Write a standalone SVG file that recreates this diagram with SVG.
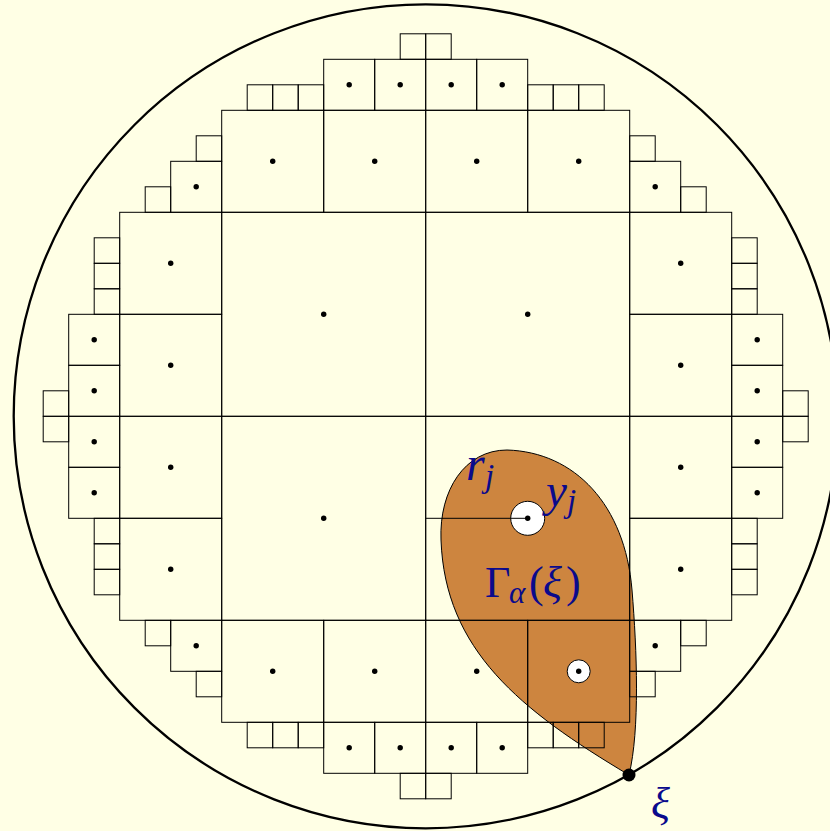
<svg xmlns="http://www.w3.org/2000/svg" width="830" height="831" viewBox="0 0 830 831">
<defs>
<style>
.sq{fill:none;stroke:#000;stroke-width:1}
.dot{fill:#000}
.lbl{font-family:"Liberation Serif","DejaVu Serif",serif;fill:#0a0a8c}
.it{font-style:italic}
</style>
</defs>
<rect x="0" y="0" width="830" height="831" fill="#FFFFE5"/>
<circle cx="425.7" cy="416.3" r="412" fill="none" stroke="#000" stroke-width="2.3"/>
<g id="cone">
<path d="M629,775 C520,710 445,650 441,540 C439,490 465,450 507,450 C575,452 625,505 632,590 C637,650 640,730 629,775 Z" fill="#CD853F" stroke="#000" stroke-width="1"/>
</g>
<g id="grid">
<!-- 8u squares -->
<rect class="sq" x="221.7" y="212.3" width="204" height="204"/>
<rect class="sq" x="425.7" y="212.3" width="204" height="204"/>
<rect class="sq" x="221.7" y="416.3" width="204" height="204"/>
<rect class="sq" x="425.7" y="416.3" width="204" height="204"/>
<!-- 4u squares -->
<rect class="sq" x="221.7" y="110.3" width="102" height="102"/>
<rect class="sq" x="323.7" y="110.3" width="102" height="102"/>
<rect class="sq" x="425.7" y="110.3" width="102" height="102"/>
<rect class="sq" x="527.7" y="110.3" width="102" height="102"/>
<rect class="sq" x="221.7" y="620.3" width="102" height="102"/>
<rect class="sq" x="323.7" y="620.3" width="102" height="102"/>
<rect class="sq" x="425.7" y="620.3" width="102" height="102"/>
<rect class="sq" x="527.7" y="620.3" width="102" height="102"/>
<rect class="sq" x="119.7" y="212.3" width="102" height="102"/>
<rect class="sq" x="119.7" y="314.3" width="102" height="102"/>
<rect class="sq" x="119.7" y="416.3" width="102" height="102"/>
<rect class="sq" x="119.7" y="518.3" width="102" height="102"/>
<rect class="sq" x="629.7" y="212.3" width="102" height="102"/>
<rect class="sq" x="629.7" y="314.3" width="102" height="102"/>
<rect class="sq" x="629.7" y="416.3" width="102" height="102"/>
<rect class="sq" x="629.7" y="518.3" width="102" height="102"/>
<!-- 2u squares -->
<rect class="sq" x="323.7" y="59.3" width="51" height="51"/>
<rect class="sq" x="374.7" y="59.3" width="51" height="51"/>
<rect class="sq" x="425.7" y="59.3" width="51" height="51"/>
<rect class="sq" x="476.7" y="59.3" width="51" height="51"/>
<rect class="sq" x="323.7" y="722.3" width="51" height="51"/>
<rect class="sq" x="374.7" y="722.3" width="51" height="51"/>
<rect class="sq" x="425.7" y="722.3" width="51" height="51"/>
<rect class="sq" x="476.7" y="722.3" width="51" height="51"/>
<rect class="sq" x="68.7" y="314.3" width="51" height="51"/>
<rect class="sq" x="68.7" y="365.3" width="51" height="51"/>
<rect class="sq" x="68.7" y="416.3" width="51" height="51"/>
<rect class="sq" x="68.7" y="467.3" width="51" height="51"/>
<rect class="sq" x="731.7" y="314.3" width="51" height="51"/>
<rect class="sq" x="731.7" y="365.3" width="51" height="51"/>
<rect class="sq" x="731.7" y="416.3" width="51" height="51"/>
<rect class="sq" x="731.7" y="467.3" width="51" height="51"/>
<rect class="sq" x="170.7" y="161.3" width="51" height="51"/>
<rect class="sq" x="629.7" y="161.3" width="51" height="51"/>
<rect class="sq" x="170.7" y="620.3" width="51" height="51"/>
<rect class="sq" x="629.7" y="620.3" width="51" height="51"/>
<!-- 1u squares -->
<rect class="sq" x="400.2" y="33.8" width="25.5" height="25.5"/>
<rect class="sq" x="425.7" y="33.8" width="25.5" height="25.5"/>
<rect class="sq" x="400.2" y="773.3" width="25.5" height="25.5"/>
<rect class="sq" x="425.7" y="773.3" width="25.5" height="25.5"/>
<rect class="sq" x="43.2" y="390.8" width="25.5" height="25.5"/>
<rect class="sq" x="43.2" y="416.3" width="25.5" height="25.5"/>
<rect class="sq" x="782.7" y="390.8" width="25.5" height="25.5"/>
<rect class="sq" x="782.7" y="416.3" width="25.5" height="25.5"/>
<rect class="sq" x="247.2" y="84.8" width="25.5" height="25.5"/>
<rect class="sq" x="272.7" y="84.8" width="25.5" height="25.5"/>
<rect class="sq" x="298.2" y="84.8" width="25.5" height="25.5"/>
<rect class="sq" x="527.7" y="84.8" width="25.5" height="25.5"/>
<rect class="sq" x="553.2" y="84.8" width="25.5" height="25.5"/>
<rect class="sq" x="578.7" y="84.8" width="25.5" height="25.5"/>
<rect class="sq" x="247.2" y="722.3" width="25.5" height="25.5"/>
<rect class="sq" x="272.7" y="722.3" width="25.5" height="25.5"/>
<rect class="sq" x="298.2" y="722.3" width="25.5" height="25.5"/>
<rect class="sq" x="527.7" y="722.3" width="25.5" height="25.5"/>
<rect class="sq" x="553.2" y="722.3" width="25.5" height="25.5"/>
<rect class="sq" x="578.7" y="722.3" width="25.5" height="25.5"/>
<rect class="sq" x="94.2" y="237.8" width="25.5" height="25.5"/>
<rect class="sq" x="94.2" y="263.3" width="25.5" height="25.5"/>
<rect class="sq" x="94.2" y="288.8" width="25.5" height="25.5"/>
<rect class="sq" x="94.2" y="518.3" width="25.5" height="25.5"/>
<rect class="sq" x="94.2" y="543.8" width="25.5" height="25.5"/>
<rect class="sq" x="94.2" y="569.3" width="25.5" height="25.5"/>
<rect class="sq" x="731.7" y="237.8" width="25.5" height="25.5"/>
<rect class="sq" x="731.7" y="263.3" width="25.5" height="25.5"/>
<rect class="sq" x="731.7" y="288.8" width="25.5" height="25.5"/>
<rect class="sq" x="731.7" y="518.3" width="25.5" height="25.5"/>
<rect class="sq" x="731.7" y="543.8" width="25.5" height="25.5"/>
<rect class="sq" x="731.7" y="569.3" width="25.5" height="25.5"/>
<rect class="sq" x="196.2" y="135.8" width="25.5" height="25.5"/>
<rect class="sq" x="145.2" y="186.8" width="25.5" height="25.5"/>
<rect class="sq" x="629.7" y="135.8" width="25.5" height="25.5"/>
<rect class="sq" x="680.7" y="186.8" width="25.5" height="25.5"/>
<rect class="sq" x="145.2" y="620.3" width="25.5" height="25.5"/>
<rect class="sq" x="196.2" y="671.3" width="25.5" height="25.5"/>
<rect class="sq" x="629.7" y="671.3" width="25.5" height="25.5"/>
<rect class="sq" x="680.7" y="620.3" width="25.5" height="25.5"/>
</g>
<g id="centres">
<circle cx="527.7" cy="518.3" r="17" fill="#fff" stroke="#000" stroke-width="1"/>
<circle cx="578.7" cy="671.3" r="11.5" fill="#fff" stroke="#000" stroke-width="1"/>
<line x1="425.7" y1="518.3" x2="527.7" y2="518.3" stroke="#000" stroke-width="1"/>
<g class="dot">
<circle cx="323.7" cy="314.3" r="2.7"/><circle cx="527.7" cy="314.3" r="2.7"/>
<circle cx="323.7" cy="518.3" r="2.7"/><circle cx="527.7" cy="518.3" r="2.7"/>
<circle cx="272.7" cy="161.3" r="2.7"/><circle cx="374.7" cy="161.3" r="2.7"/><circle cx="476.7" cy="161.3" r="2.7"/><circle cx="578.7" cy="161.3" r="2.7"/>
<circle cx="272.7" cy="671.3" r="2.7"/><circle cx="374.7" cy="671.3" r="2.7"/><circle cx="476.7" cy="671.3" r="2.7"/><circle cx="578.7" cy="671.3" r="2.7"/>
<circle cx="170.7" cy="263.3" r="2.7"/><circle cx="170.7" cy="365.3" r="2.7"/><circle cx="170.7" cy="467.3" r="2.7"/><circle cx="170.7" cy="569.3" r="2.7"/>
<circle cx="680.7" cy="263.3" r="2.7"/><circle cx="680.7" cy="365.3" r="2.7"/><circle cx="680.7" cy="467.3" r="2.7"/><circle cx="680.7" cy="569.3" r="2.7"/>
<circle cx="349.2" cy="84.8" r="2.7"/><circle cx="400.2" cy="84.8" r="2.7"/><circle cx="451.2" cy="84.8" r="2.7"/><circle cx="502.2" cy="84.8" r="2.7"/>
<circle cx="349.2" cy="747.8" r="2.7"/><circle cx="400.2" cy="747.8" r="2.7"/><circle cx="451.2" cy="747.8" r="2.7"/><circle cx="502.2" cy="747.8" r="2.7"/>
<circle cx="94.2" cy="339.8" r="2.7"/><circle cx="94.2" cy="390.8" r="2.7"/><circle cx="94.2" cy="441.8" r="2.7"/><circle cx="94.2" cy="492.8" r="2.7"/>
<circle cx="757.2" cy="339.8" r="2.7"/><circle cx="757.2" cy="390.8" r="2.7"/><circle cx="757.2" cy="441.8" r="2.7"/><circle cx="757.2" cy="492.8" r="2.7"/>
<circle cx="196.2" cy="186.8" r="2.7"/><circle cx="655.2" cy="186.8" r="2.7"/><circle cx="196.2" cy="645.8" r="2.7"/><circle cx="655.2" cy="645.8" r="2.7"/>
</g>
</g>
<g id="xi-point">
<circle cx="629" cy="775" r="6.5" fill="#000"/>
</g>
<g id="labels" class="lbl">
<text class="it" x="466" y="480" font-size="48">r</text>
<text class="it" x="485" y="487" font-size="33">j</text>
<text class="it" x="546" y="506" font-size="47">y</text>
<text class="it" x="567" y="512" font-size="33">j</text>
<text x="485" y="597" font-size="44">Γ</text>
<text class="it" x="509" y="603" font-size="31">α</text>
<text x="529" y="597" font-size="44">(</text>
<text class="it" x="543" y="597" font-size="44">ξ</text>
<text x="566" y="597" font-size="44">)</text>
<text class="it" x="651" y="818" font-size="44">ξ</text>
</g>
</svg>
